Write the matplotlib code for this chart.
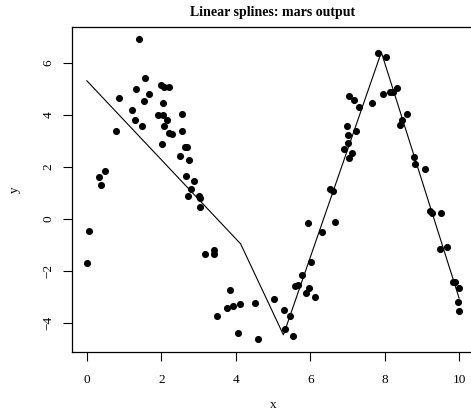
import matplotlib.pyplot as plt

# observed points
x = [1.40, 1.55, 1.33, 1.68, 2.00, 2.08, 2.20, 0.86, 1.53, 2.04,
     1.21, 1.91, 2.04, 2.55, 1.30, 2.15, 1.47, 2.08, 0.77, 2.21,
     2.28, 2.55, 2.02, 2.63, 2.69, 2.50, 2.73, 0.49, 0.33, 0.38,
     2.67, 2.89, 2.80, 2.72, 3.02, 3.04, 3.05, 0.06, 0.01, 3.41,
     3.18, 3.41, 3.84, 3.77, 3.49, 3.92, 4.11, 4.07, 4.51, 4.61,
     5.03, 5.29, 5.32, 5.46, 5.55, 5.60, 5.66, 5.77, 5.88, 5.97,
     6.13, 6.01, 5.94, 6.32, 6.67, 7.81, 8.03, 7.03, 7.17, 7.30,
     7.65, 7.95, 8.15, 8.23, 8.34, 8.59, 8.47, 8.41, 6.99, 7.23,
     7.01, 7.02, 6.92, 7.12, 7.05, 8.78, 8.81, 9.08, 6.52, 6.60,
     9.21, 9.28, 9.51, 9.49, 9.67, 9.83, 9.89, 10.00, 9.98, 10.01]
y = [6.93, 5.41, 5.01, 4.80, 5.14, 5.07, 5.07, 4.63, 4.53, 4.45,
     4.18, 3.99, 3.99, 4.03, 3.82, 3.79, 3.56, 3.56, 3.37, 3.29,
     3.26, 3.37, 2.87, 2.76, 2.76, 2.41, 2.26, 1.83, 1.60, 1.30,
     1.64, 1.44, 1.14, 0.87, 0.88, 0.80, 0.44, -0.45, -1.68, -1.18,
     -1.36, -1.36, -2.72, -3.41, -3.72, -3.35, -3.26, -4.37, -3.24, -4.63,
     -3.09, -3.51, -4.24, -3.72, -4.51, -2.59, -2.56, -2.17, -2.86, -2.64,
     -3.01, -1.67, -0.17, -0.51, -0.13, 6.37, 6.22, 4.72, 4.57, 4.30,
     4.46, 4.81, 4.87, 4.87, 5.03, 4.04, 3.81, 3.60, 3.56, 3.37,
     3.22, 2.90, 2.68, 2.53, 2.33, 2.37, 2.12, 1.91, 1.14, 1.09,
     0.31, 0.22, 0.22, -1.15, -1.10, -2.44, -2.41, -2.64, -3.21, -3.56]

# fitted piecewise-linear mars curve (knots)
fit_x = [0.0, 4.13, 5.28, 7.91, 10.0]
fit_y = [5.31, -0.96, -4.46, 6.41, -3.05]

plt.rcParams['font.family'] = ['Liberation Serif', 'DejaVu Serif']

fig = plt.figure(figsize=(4.71, 4.19), dpi=100)
ax = fig.add_axes([72 / 471, (419 - 352) / 419, (474 - 72) / 471, (352 - 27) / 419])

ax.scatter(x, y, s=26, color='black', linewidths=0, zorder=3)
ax.plot(fit_x, fit_y, color='black', linewidth=0.8)

ax.set_xlim(-0.4, 10.4)
ax.set_ylim(-5.12, 7.38)
ax.set_xticks([0, 2, 4, 6, 8, 10])
ax.set_yticks([-4, -2, 0, 2, 4, 6])
ax.set_yticklabels(['\u22124', '\u22122', '0', '2', '4', '6'], rotation=90, va='center')
ax.tick_params(direction='out', length=6.5, width=0.8, labelsize=9.5)
ax.tick_params(axis='x', pad=9)
ax.tick_params(axis='y', pad=6)

for s in ax.spines.values():
    s.set_linewidth(0.9)

ax.set_xlabel('x', fontsize=9.5, labelpad=10)
ax.set_ylabel('y', fontsize=9.5, labelpad=16)
ax.set_title('Linear splines: mars output', fontsize=10, fontweight='bold', pad=8)

fig.savefig('out.png', dpi=100)
